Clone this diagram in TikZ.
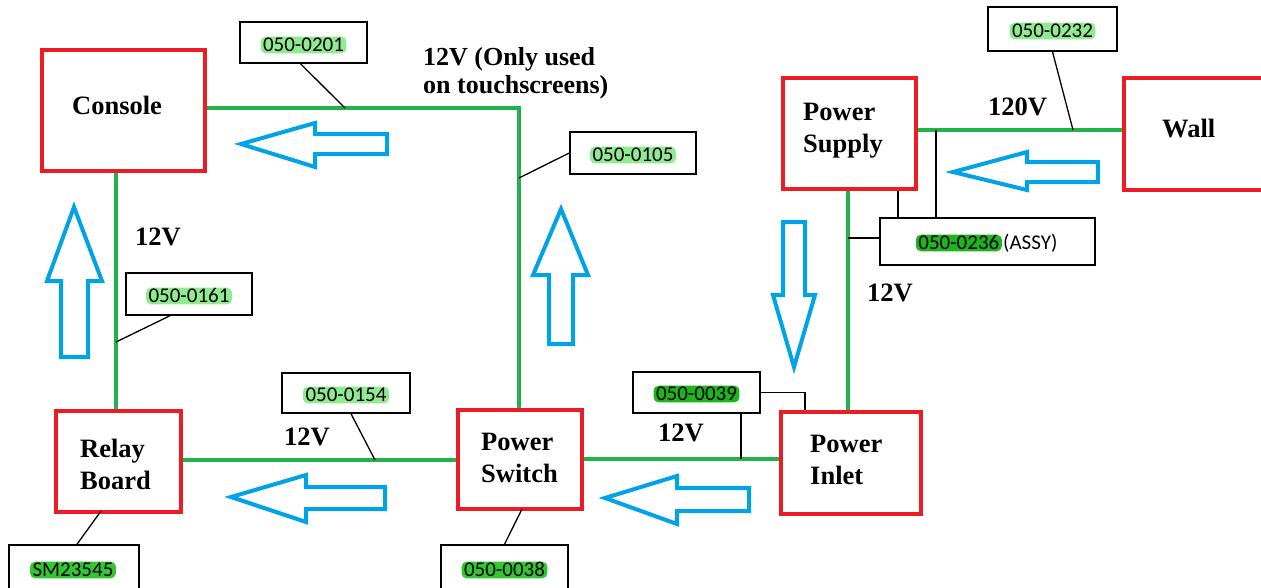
\documentclass[tikz,border=0pt]{standalone}
\usepackage{fontspec}
\setmainfont{Liberation Serif}
\newfontfamily\labfont{Carlito}
\definecolor{boxred}{HTML}{ED1C24}
\definecolor{wiregreen}{HTML}{22B14C}
\definecolor{arrowblue}{HTML}{00A2E8}
\definecolor{hllight}{HTML}{90EA90}
\definecolor{hlbright}{HTML}{33C633}
\definecolor{hldark}{HTML}{1EB41E}
\begin{document}
\begin{tikzpicture}[x=1pt,y=-1pt,
  unitbox/.style={draw=boxred,line width=4.5pt,inner sep=0pt},
  wire/.style={draw=wiregreen,line width=4pt},
  leader/.style={draw=black,line width=1.3pt},
  labbox/.style={draw=black,line width=1.5pt,fill=white,inner sep=0pt},
  hltext/.style={font=\labfont\fontsize{21}{24}\selectfont,rounded corners=5pt,inner xsep=2.5pt,inner ysep=1pt,text height=13.8pt,text depth=0.8pt},
  bigtext/.style={font=\bfseries\fontsize{26.5}{32}\selectfont,inner sep=0pt,align=left},
  flowarrow/.style={draw=arrowblue,line width=4pt,line join=miter}]
\useasboundingbox (0,0) rectangle (1261,587);
\clip (0,0) rectangle (1261,587);
\fill[white] (0,0) rectangle (1261,587);

% unit boxes
\node[unitbox,minimum width=163pt,minimum height=121pt] (console) at (123.5,110.5) {};
\node[unitbox,minimum width=133pt,minimum height=111pt] (psu) at (849.5,133.5) {};
\node[unitbox,minimum width=142pt,minimum height=112pt] (wall) at (1195,134) {};
\node[unitbox,minimum width=125pt,minimum height=101pt] (relay) at (118.5,461.5) {};
\node[unitbox,minimum width=124pt,minimum height=99pt] (switch) at (520,459.5) {};
\node[unitbox,minimum width=140pt,minimum height=102pt] (inlet) at (851,463) {};

% unit texts (base anchor = last line)
\node[bigtext,anchor=base west] (tconsole) at (72,114) {Console};
\node[bigtext,anchor=base west] (tpsu) at (803,152) {Power\\Supply};
\node[bigtext,anchor=base west] (twall) at (1162,137) {Wall};
\node[bigtext,anchor=base west] (trelay) at (80,489) {Relay\\Board};
\node[bigtext,anchor=base west] (tswitch) at (481,482) {Power\\Switch};
\node[bigtext,anchor=base west] (tinlet) at (810,484) {Power\\Inlet};

% voltage texts
\node[bigtext,anchor=base west,font=\bfseries\fontsize{26}{28}\selectfont] (vtouch) at (423,93) {12V (Only used\\on touchscreens)};
\node[bigtext,anchor=base west] (v120) at (988,115) {120V};
\node[bigtext,anchor=base west] (vcr) at (135,245) {12V};
\node[bigtext,anchor=base west] (vpi) at (867,301) {12V};
\node[bigtext,anchor=base west] (vrs) at (284,445) {12V};
\node[bigtext,anchor=base west] (vsi) at (658,441) {12V};

% wires
\coordinate (j1) at (519,108);
\coordinate (cx) at (116,0);
\coordinate (wy) at (0,130);
\draw[wire] (console.east |- j1) -- (j1) -- (switch.north -| j1);
\draw[wire] (console.south -| cx) -- (relay.north -| cx);
\draw[wire] (relay.east |- 0,460) -- (switch.west |- 0,460);
\draw[wire] (switch.east |- 0,458.5) -- (inlet.west |- 0,458.5);
\draw[wire] (psu.south -| 848,0) -- (inlet.north -| 848,0);
\draw[wire] (psu.east |- wy) -- (wall.west |- wy);

% label boxes
\node[labbox,minimum width=127pt,minimum height=41pt] (l0201) at (303.5,42.5) {};
\node[labbox,minimum width=129pt,minimum height=44pt] (l0232) at (1052.5,29) {};
\node[labbox,minimum width=215pt,minimum height=47pt] (l0236) at (987.5,241.5) {};
\node[labbox,minimum width=126pt,minimum height=42pt] (l0105) at (633,153) {};
\node[labbox,minimum width=126pt,minimum height=42pt] (l0161) at (189,294) {};
\node[labbox,minimum width=128pt,minimum height=40pt] (l0154) at (346,393) {};
\node[labbox,minimum width=127pt,minimum height=41pt] (l0039) at (696.5,392.5) {};
\node[labbox,minimum width=130pt,minimum height=52pt] (lsm) at (74,571) {};
\node[labbox,minimum width=127pt,minimum height=52pt] (l0038) at (504.5,571) {};

% label texts
\node[hltext,fill=hllight] (h0201) at (303.5,45) {050-0201};
\node[hltext,fill=hllight] (h0232) at (1052.5,31) {050-0232};
\node[hltext,fill=hldark,anchor=east] (h0236) at (1002,243) {050-0236};
\node[hltext,anchor=west,inner xsep=1pt] (h0236b) at (h0236.east) {(ASSY)};
\node[hltext,fill=hllight] (h0105) at (633,155) {050-0105};
\node[hltext,fill=hllight] (h0161) at (189,296) {050-0161};
\node[hltext,fill=hllight] (h0154) at (346,395) {050-0154};
\node[hltext,fill=hldark] (h0039) at (696.5,394) {050-0039};
\node[hltext,fill=hlbright] (hsm) at (73,570) {SM23545};
\node[hltext,fill=hlbright] (h0038) at (504.5,570) {050-0038};

% leaders
\coordinate (t0201) at (345,108);
\coordinate (t0232) at (1073,130);
\coordinate (a1) at (898,0);
\coordinate (t0236b) at (936,130);
\coordinate (t0105) at (519,178);
\coordinate (t0161) at (116,342);
\coordinate (t0154) at (375,460);
\coordinate (t0039b) at (741,458.5);
\coordinate (t0039a) at (805,0);
\coordinate (tsm) at (101,511);
\coordinate (t0038) at (522,509);
\draw[leader] ([xshift=-3pt]l0201.south) -- (t0201);
\draw[leader] (l0232.south) -- (t0232);
\draw[leader] (l0236.north -| a1) -- (psu.south -| a1);
\draw[leader] (l0236.north -| t0236b) -- (t0236b);
\draw[leader] ([yshift=3.5pt]l0236.west) -- ([yshift=3.5pt]l0236.west -| 848,0);
\draw[leader] (l0105.west) -- (t0105);
\draw[leader] ([xshift=-19pt]l0161.south) -- (t0161);
\draw[leader] ([xshift=5pt]l0154.south) -- (t0154);
\draw[leader] (l0039.east) -| (inlet.north -| t0039a);
\draw[leader] (l0039.south -| t0039b) -- (t0039b);
\draw[leader] (lsm.north -| 77,0) -- (tsm);
\draw[leader] (l0038.north) -- (t0038);

% flow arrows
\draw[flowarrow] (241,144) -- (315,123) -- (315,134) -- (387,134) -- (387,154) -- (315,154) -- (315,167) -- cycle;
\draw[flowarrow] (231,497) -- (306,475) -- (306,487) -- (385,487) -- (385,509) -- (306,509) -- (306,522) -- cycle;
\draw[flowarrow] (605,498) -- (677,476) -- (677,488) -- (749,488) -- (749,511) -- (677,511) -- (677,524) -- cycle;
\draw[flowarrow] (953,172) -- (1027,152) -- (1027,162) -- (1098,162) -- (1098,182) -- (1027,182) -- (1027,190) -- cycle;
\draw[flowarrow] (794,367) -- (773,295) -- (783,295) -- (783,222) -- (805,222) -- (805,295) -- (815,295) -- cycle;
\draw[flowarrow] (561,209) -- (533,275) -- (549,275) -- (549,344) -- (573,344) -- (573,275) -- (588,275) -- cycle;
\draw[flowarrow] (74,207) -- (47,281) -- (61,281) -- (61,357) -- (88,357) -- (88,281) -- (102,281) -- cycle;
\end{tikzpicture}
\end{document}
